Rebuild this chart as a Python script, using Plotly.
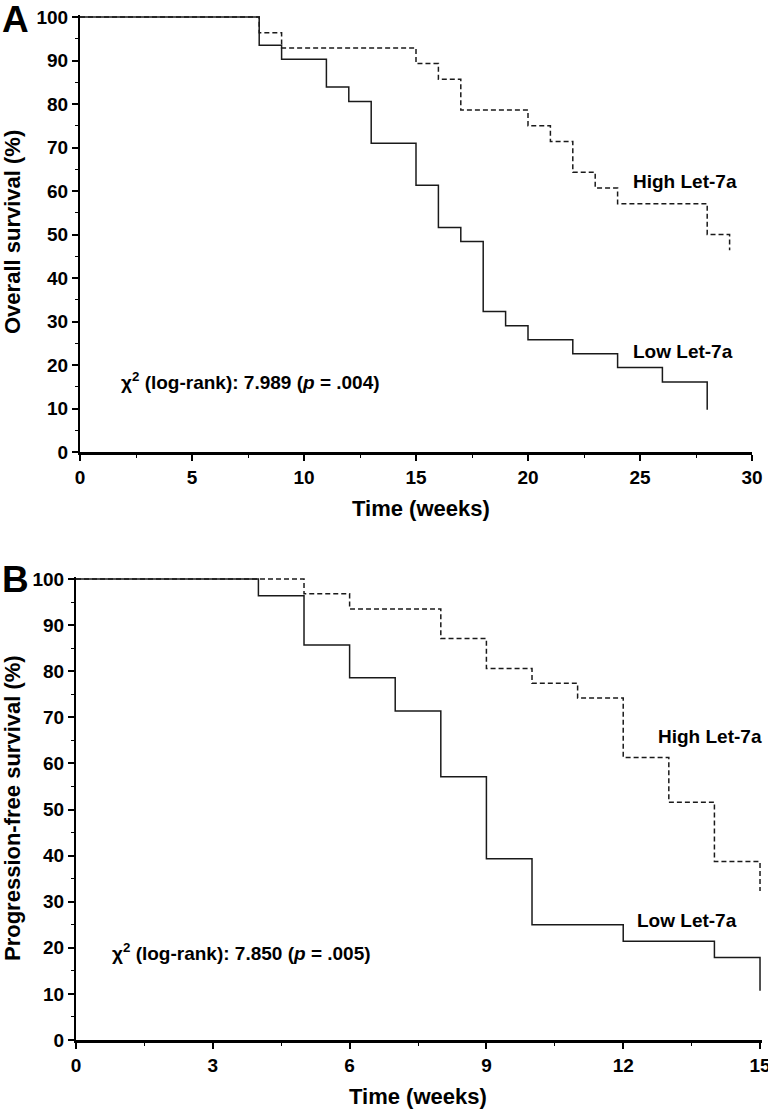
import plotly.graph_objects as go

# ---------------- data ----------------
# Panel A: overall survival (%)
a_low_weeks = [0, 8, 9, 11, 12, 13, 15, 16, 17, 18, 19, 20, 22, 24, 26, 28]
a_low_surv = [100, 93.5, 90.3, 83.9, 80.6, 71.0, 61.3, 51.6, 48.4, 32.3, 29.0, 25.8, 22.6, 19.4, 16.1, 9.7]
a_high_weeks = [0, 8, 9, 15, 16, 17, 20, 21, 22, 23, 24, 28, 29]
a_high_surv = [100, 96.4, 92.9, 89.3, 85.7, 78.6, 75.0, 71.4, 64.3, 60.7, 57.1, 50.0, 46.4]

# Panel B: progression-free survival (%)
b_low_weeks = [0, 4, 5, 6, 7, 8, 9, 10, 12, 14, 15]
b_low_surv = [100, 96.4, 85.7, 78.6, 71.4, 57.1, 39.3, 25.0, 21.4, 17.9, 10.7]
b_high_weeks = [0, 5, 6, 8, 9, 10, 11, 12, 13, 14, 15]
b_high_surv = [100, 96.8, 93.5, 87.1, 80.6, 77.4, 74.2, 61.3, 51.6, 38.7, 32.3]

a_xticks = [0, 5, 10, 15, 20, 25, 30]
b_xticks = [0, 3, 6, 9, 12, 15]
yticks = [0, 10, 20, 30, 40, 50, 60, 70, 80, 90, 100]

a_chi_text = "χ<sup>2</sup> (log-rank): 7.989 (<i>p</i> = .004)"
b_chi_text = "χ<sup>2</sup> (log-rank): 7.850 (<i>p</i> = .005)"

# ---------------- figure ----------------
W, H = 768, 1111
FONT = "Liberation Sans, Arial, sans-serif"
INK = "#1a1a1a"

def px(x):
    return x / W

def py(y):
    return 1 - y / H

fig = go.Figure()

fig.add_trace(go.Scatter(x=a_low_weeks, y=a_low_surv, mode="lines", line_shape="hv",
                         line=dict(color=INK, width=1.5), xaxis="x", yaxis="y",
                         showlegend=False, hoverinfo="skip"))
fig.add_trace(go.Scatter(x=a_high_weeks, y=a_high_surv, mode="lines", line_shape="hv",
                         line=dict(color=INK, width=1.5, dash="5px,3px"), xaxis="x", yaxis="y",
                         showlegend=False, hoverinfo="skip"))
fig.add_trace(go.Scatter(x=b_low_weeks, y=b_low_surv, mode="lines", line_shape="hv",
                         line=dict(color=INK, width=1.5), xaxis="x2", yaxis="y2",
                         showlegend=False, hoverinfo="skip"))
fig.add_trace(go.Scatter(x=b_high_weeks, y=b_high_surv, mode="lines", line_shape="hv",
                         line=dict(color=INK, width=1.5, dash="5px,3px"), xaxis="x2", yaxis="y2",
                         showlegend=False, hoverinfo="skip"))

tickfont = dict(family=FONT, size=19, color="black", weight="bold")

def xaxis_cfg(domain, rng, ticks, anchor, minor_dtick):
    return dict(domain=domain, range=rng, anchor=anchor, tickvals=ticks,
                ticktext=[str(t) for t in ticks],
                showline=True, linecolor="black", linewidth=3, mirror=False,
                ticks="outside", ticklen=6, tickwidth=1.5, tickcolor="black",
                minor=dict(dtick=minor_dtick, tick0=0, ticks="outside", ticklen=3,
                           tickwidth=1, tickcolor="black", showgrid=False),
                showgrid=False, zeroline=False, tickfont=tickfont, automargin=False,
                ticklabeloverflow="allow", fixedrange=True)

def yaxis_cfg(domain, rng, anchor):
    return dict(domain=domain, range=rng, anchor=anchor, tickvals=yticks,
                ticktext=[str(t) for t in yticks],
                showline=True, linecolor="black", linewidth=2, mirror=False,
                ticks="outside", ticklen=6, tickwidth=1.5, tickcolor="black",
                minor=dict(dtick=5, tick0=0, ticks="outside", ticklen=3,
                           tickwidth=1, tickcolor="black", showgrid=False),
                showgrid=False, zeroline=False, tickfont=tickfont, automargin=False,
                ticklabeloverflow="allow", fixedrange=True)

fig.update_layout(
    width=W, height=H,
    margin=dict(l=0, r=0, t=0, b=0),
    paper_bgcolor="white", plot_bgcolor="white",
    font=dict(family=FONT, color="black"),
    xaxis=xaxis_cfg([px(80), px(752)], [0, 30], a_xticks, "y", 2.5),
    yaxis=yaxis_cfg([py(452), py(15.3)], [0, 100.4], "x"),
    xaxis2=xaxis_cfg([px(76), px(762.3)], [0, 15.05], b_xticks, "y2", 1.5),
    yaxis2=yaxis_cfg([py(1040), py(577.2)], [0, 100.4], "x2"),
)

ann = []
def text(x, y, s, size, xref, yref, xanchor="left", yanchor="middle", textangle=0):
    ann.append(dict(x=x, y=y, text=s, xref=xref, yref=yref, showarrow=False,
                    xanchor=xanchor, yanchor=yanchor, textangle=textangle,
                    font=dict(family=FONT, size=size, color="black", weight="bold")))

# panel letters
text(px(0), py(-3), "A", 37, "paper", "paper", yanchor="top")
text(px(0), py(557), "B", 37, "paper", "paper", yanchor="top")

# axis titles
text(px(421), py(509), "Time (weeks)", 22, "paper", "paper", xanchor="center")
text(px(418), py(1096), "Time (weeks)", 22, "paper", "paper", xanchor="center")
text(px(12), py(232), "Overall survival (%)", 22, "paper", "paper", xanchor="center", textangle=-90)
text(px(12), py(808), "Progression-free survival (%)", 22, "paper", "paper", xanchor="center", textangle=-90)

# curve labels
text(24.6, 62.1, "High Let-7a", 19, "x", "y")
text(24.6, 23.0, "Low Let-7a", 19, "x", "y")
text(12.72, 65.9, "High Let-7a", 19, "x2", "y2")
text(12.26, 25.9, "Low Let-7a", 19, "x2", "y2")

# statistics
text(1.75, 16.4, a_chi_text, 19, "x", "y")
text(0.75, 19.2, b_chi_text, 19, "x2", "y2")

fig.update_layout(annotations=ann)

fig.write_html("out.html",
               config={"displayModeBar": False},
               post_script="document.body.style.margin='0';document.body.style.overflow='hidden';")
